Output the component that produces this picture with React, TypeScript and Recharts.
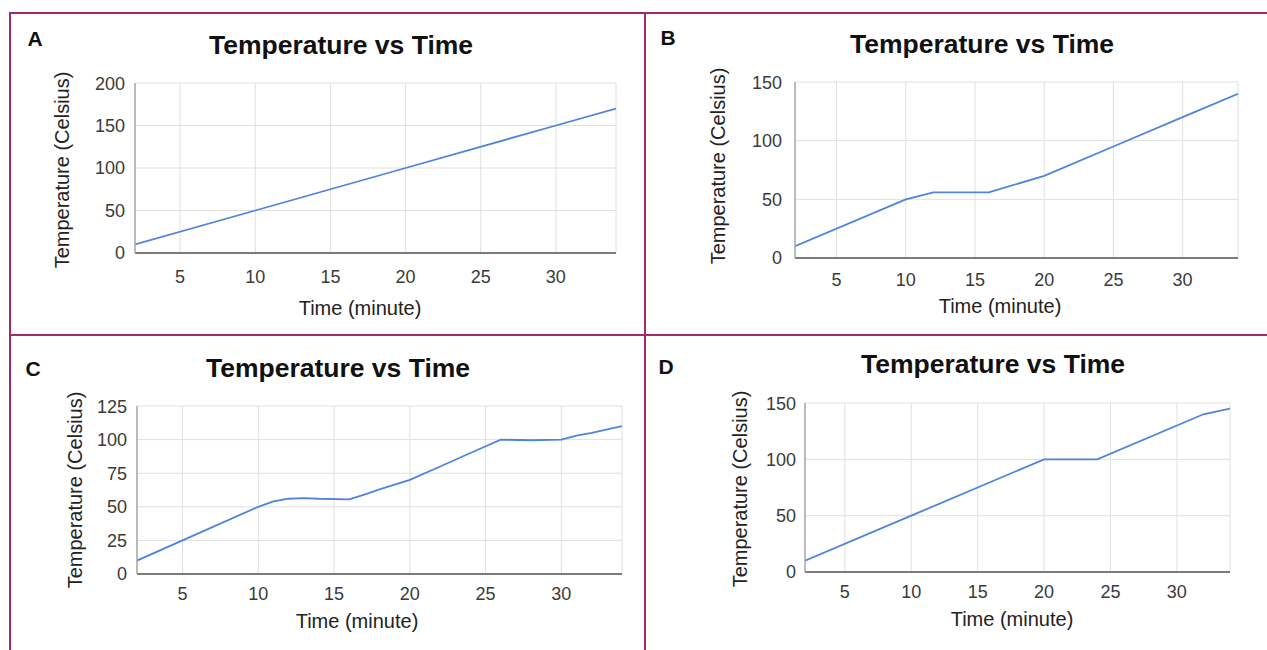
import React from 'react';
import { LineChart, Line, XAxis, YAxis, CartesianGrid } from 'recharts';

// ---- Data ----
const xTicks = [5, 10, 15, 20, 25, 30];
const xDomain: [number, number] = [2, 34];

const timesA = [2, 10, 20, 30, 34];
const tempsA = [10, 50, 100, 150, 170];

const timesB = [2, 10, 12, 16, 20, 25, 30, 34];
const tempsB = [10, 50, 56, 56, 70, 95, 120, 140];

const timesC = [2, 10, 11, 12, 13, 14, 16, 17, 18, 20, 22, 24, 26, 28, 30, 31, 32, 34];
const tempsC = [10, 50, 54, 56, 56.5, 56, 55.5, 59, 63, 70, 80, 90, 100, 99.5, 100, 103, 105, 110];

const timesD = [2, 10, 20, 24, 32, 34];
const tempsD = [10, 50, 100, 100, 140, 145];

const yTicksA = [0, 50, 100, 150, 200];
const yTicksB = [0, 50, 100, 150];
const yTicksC = [0, 25, 50, 75, 100, 125];
const yTicksD = [0, 50, 100, 150];

const title = 'Temperature vs Time';
const xTitle = 'Time (minute)';
const yTitle = 'Temperature (Celsius)';
const letters = ['A', 'B', 'C', 'D'];

const toRows = (ts: number[], vs: number[]) => ts.map((t, i) => ({ t, v: vs[i] }));

const FONT = '"Liberation Sans", Arial, Helvetica, sans-serif';
const BORDER = '#a5286d';
const LINE = '#4f84dc';

type Rect = { l: number; t: number; r: number; b: number };

function Panel(props: {
  rows: { t: number; v: number }[];
  plot: Rect;
  yTicks: number[];
  yMargin: number;
  xMargin: number;
}) {
  const { rows, plot, yTicks, yMargin, xMargin } = props;
  const yW = 70;
  const top = 10;
  const xH = 45;
  const right = 10;
  const width = yW + (plot.r - plot.l) + right;
  const height = top + (plot.b - plot.t) + xH;
  const tickStyle = { fill: '#3a3a3a', fontSize: 18, fontFamily: FONT };
  return (
    <div style={{ position: 'absolute', left: plot.l - yW, top: plot.t - top }}>
      <LineChart width={width} height={height} data={rows} margin={{ top, right, left: 0, bottom: 0 }}>
        <CartesianGrid stroke="#e0e0e0" strokeWidth={1} />
        <XAxis
          type="number"
          dataKey="t"
          domain={xDomain}
          ticks={xTicks}
          allowDataOverflow
          tickSize={0}
          tickMargin={xMargin}
          height={xH}
          axisLine={{ stroke: '#555', strokeWidth: 1.6 }}
          tickLine={false}
          tick={tickStyle}
        />
        <YAxis
          type="number"
          domain={[yTicks[0], yTicks[yTicks.length - 1]]}
          ticks={yTicks}
          width={yW}
          tickSize={0}
          tickMargin={yMargin}
          axisLine={{ stroke: '#a8a8a8', strokeWidth: 1.5 }}
          tickLine={false}
          tick={tickStyle}
        />
        <Line
          type="linear"
          dataKey="v"
          stroke={LINE}
          strokeWidth={1.8}
          dot={false}
          activeDot={false}
          isAnimationActive={false}
        />
      </LineChart>
    </div>
  );
}

function Text(props: { x: number; y: number; size: number; bold?: boolean; rotate?: boolean; color?: string; children: React.ReactNode }) {
  const { x, y, size, bold, rotate, color, children } = props;
  return (
    <div
      style={{
        position: 'absolute',
        left: x,
        top: y,
        transform: `translate(-50%, -50%)${rotate ? ' rotate(-90deg)' : ''}`,
        fontFamily: FONT,
        fontSize: size,
        fontWeight: bold ? 700 : 400,
        color: color || '#222',
        whiteSpace: 'nowrap',
        lineHeight: 1,
      }}
    >
      {children}
    </div>
  );
}

const panels = [
  {
    rows: toRows(timesA, tempsA), plot: { l: 135, t: 83, r: 616, b: 253 }, yTicks: yTicksA, yMargin: 10, xMargin: 17,
    letter: { x: 35, y: 38 }, title: { x: 341, y: 45 }, xt: { x: 360, y: 308 }, yt: { x: 62, y: 170 },
  },
  {
    rows: toRows(timesB, tempsB), plot: { l: 795, t: 82, r: 1238, b: 258 }, yTicks: yTicksB, yMargin: 13, xMargin: 15,
    letter: { x: 668, y: 37 }, title: { x: 982, y: 44 }, xt: { x: 1000, y: 306 }, yt: { x: 718, y: 166 },
  },
  {
    rows: toRows(timesC, tempsC), plot: { l: 137, t: 406, r: 622, b: 574 }, yTicks: yTicksC, yMargin: 10, xMargin: 13,
    letter: { x: 33, y: 368 }, title: { x: 338, y: 368 }, xt: { x: 357, y: 621 }, yt: { x: 75, y: 490 },
  },
  {
    rows: toRows(timesD, tempsD), plot: { l: 805, t: 403, r: 1230, b: 572 }, yTicks: yTicksD, yMargin: 9, xMargin: 13,
    letter: { x: 666, y: 366 }, title: { x: 993, y: 364 }, xt: { x: 1012, y: 619 }, yt: { x: 740, y: 489 },
  },
];

export default function App() {
  return (
    <div style={{ position: 'absolute', left: 0, top: 0, width: 1267, height: 650, background: '#fff', overflow: 'hidden' }}>
      {/* frame lines */}
      <div style={{ position: 'absolute', left: 9, top: 12, width: 1258, height: 2, background: BORDER }} />
      <div style={{ position: 'absolute', left: 9, top: 12, width: 2, height: 638, background: BORDER }} />
      <div style={{ position: 'absolute', left: 644, top: 12, width: 2, height: 638, background: BORDER }} />
      <div style={{ position: 'absolute', left: 9, top: 334, width: 1258, height: 2, background: BORDER }} />

      {panels.map((p, i) => (
        <React.Fragment key={i}>
          <Panel rows={p.rows} plot={p.plot} yTicks={p.yTicks} yMargin={p.yMargin} xMargin={p.xMargin} />
          <Text x={p.letter.x} y={p.letter.y} size={21} bold color="#111">{letters[i]}</Text>
          <Text x={p.title.x} y={p.title.y} size={26.5} bold color="#111">{title}</Text>
          <Text x={p.xt.x} y={p.xt.y} size={20}>{xTitle}</Text>
          <Text x={p.yt.x} y={p.yt.y} size={20} rotate>{yTitle}</Text>
        </React.Fragment>
      ))}
    </div>
  );
}
